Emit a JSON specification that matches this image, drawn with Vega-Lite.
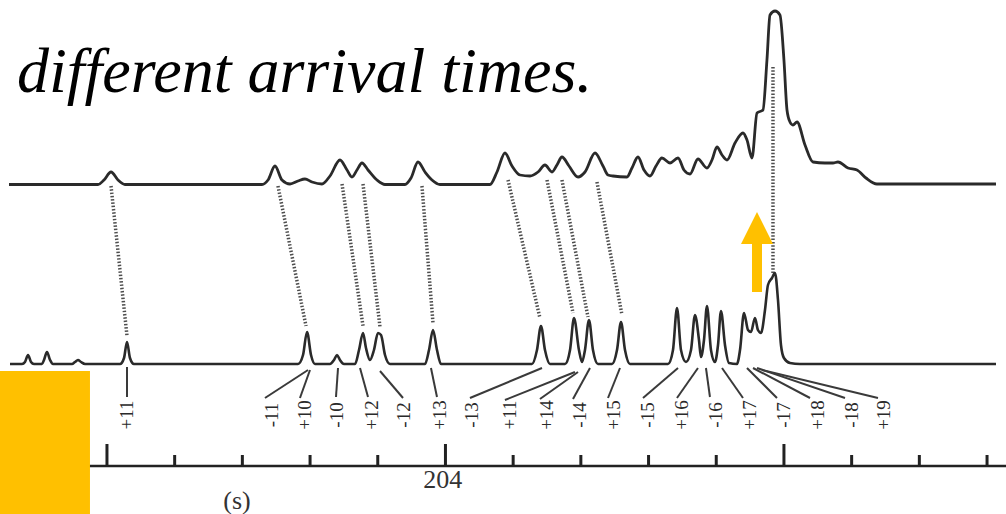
{
  "$schema": "https://vega.github.io/schema/vega-lite/v6.json",
  "width": 1006,
  "height": 514,
  "padding": 0,
  "autosize": {"type": "none"},
  "background": "white",
  "config": {"view": {"stroke": null}},
  "datasets": {
    "top": [
      {"t":197.553,"h":329.5},{"t":198.868,"h":329.5},{"t":198.956,"h":334},{"t":199.060,"h":342},{"t":199.163,"h":334},{"t":199.266,"h":329.5},
      {"t":201.290,"h":329.5},{"t":201.379,"h":334},{"t":201.482,"h":348},{"t":201.585,"h":334},{"t":201.704,"h":330},{"t":201.822,"h":333},{"t":201.925,"h":335},{"t":202.029,"h":332},{"t":202.176,"h":330},{"t":202.294,"h":338},{"t":202.442,"h":354},{"t":202.546,"h":344},{"t":202.619,"h":337},{"t":202.693,"h":344},{"t":202.767,"h":351},{"t":202.856,"h":344},{"t":202.989,"h":334},{"t":203.107,"h":329.5},
      {"t":203.402,"h":329.5},{"t":203.491,"h":336},{"t":203.594,"h":352},{"t":203.698,"h":342},{"t":203.801,"h":334},{"t":203.919,"h":329.5},
      {"t":204.658,"h":329.5},{"t":204.761,"h":342},{"t":204.879,"h":361},{"t":204.983,"h":348},{"t":205.101,"h":339},{"t":205.249,"h":338},{"t":205.367,"h":342},{"t":205.470,"h":349},{"t":205.574,"h":342},{"t":205.647,"h":349},{"t":205.721,"h":357},{"t":205.825,"h":348},{"t":205.958,"h":337},{"t":206.061,"h":342},{"t":206.209,"h":361},{"t":206.327,"h":348},{"t":206.401,"h":339},{"t":206.475,"h":338},{"t":206.681,"h":337},{"t":206.755,"h":346},{"t":206.844,"h":357},{"t":206.933,"h":344},{"t":207.021,"h":338},{"t":207.110,"h":348},{"t":207.198,"h":356},{"t":207.317,"h":351},{"t":207.435,"h":356},{"t":207.523,"h":344},{"t":207.612,"h":340},{"t":207.730,"h":355},{"t":207.863,"h":346},{"t":207.937,"h":354},{"t":208.011,"h":367},{"t":208.085,"h":359},{"t":208.159,"h":354},{"t":208.277,"h":371},{"t":208.395,"h":381},{"t":208.454,"h":374},{"t":208.528,"h":356},{"t":208.602,"h":401},{"t":208.690,"h":404},{"t":208.749,"h":454},{"t":208.794,"h":499},{"t":208.868,"h":503},{"t":208.941,"h":499},{"t":209.000,"h":454},{"t":209.045,"h":404},{"t":209.089,"h":392},{"t":209.133,"h":389},{"t":209.193,"h":392},{"t":209.311,"h":369},{"t":209.429,"h":352},{"t":209.606,"h":351},{"t":209.724,"h":351},{"t":209.798,"h":352},{"t":209.946,"h":346},{"t":210.079,"h":344},{"t":210.212,"h":336},{"t":210.374,"h":330},{"t":212.132,"h":330}
    ],
    "bottom": [
      {"t":197.568,"h":150},{"t":197.745,"h":150},{"t":197.789,"h":152},{"t":197.834,"h":159},{"t":197.878,"h":152},{"t":197.922,"h":150},
      {"t":198.040,"h":150},{"t":198.070,"h":154},{"t":198.114,"h":162},{"t":198.159,"h":154},{"t":198.203,"h":150},
      {"t":198.484,"h":150},{"t":198.528,"h":152},{"t":198.572,"h":154},{"t":198.616,"h":152},{"t":198.676,"h":150},
      {"t":199.193,"h":150},{"t":199.252,"h":156},{"t":199.296,"h":172},{"t":199.340,"h":156},{"t":199.399,"h":150},
      {"t":201.822,"h":150},{"t":201.896,"h":159},{"t":201.955,"h":182},{"t":202.014,"h":159},{"t":202.073,"h":150},
      {"t":202.294,"h":150},{"t":202.354,"h":154},{"t":202.398,"h":159},{"t":202.442,"h":154},{"t":202.501,"h":150},
      {"t":202.664,"h":150},{"t":202.723,"h":164},{"t":202.782,"h":181},{"t":202.826,"h":166},{"t":202.885,"h":154},{"t":202.944,"h":164},{"t":203.003,"h":181},{"t":203.048,"h":179},{"t":203.107,"h":159},{"t":203.181,"h":150},
      {"t":203.698,"h":150},{"t":203.757,"h":164},{"t":203.816,"h":184},{"t":203.875,"h":164},{"t":203.934,"h":150},
      {"t":205.278,"h":150},{"t":205.352,"h":164},{"t":205.411,"h":188},{"t":205.470,"h":164},{"t":205.544,"h":150},
      {"t":205.766,"h":150},{"t":205.840,"h":164},{"t":205.899,"h":196},{"t":205.972,"h":164},{"t":206.017,"h":152},{"t":206.061,"h":164},{"t":206.120,"h":194},{"t":206.179,"h":164},{"t":206.253,"h":150},
      {"t":206.460,"h":150},{"t":206.534,"h":164},{"t":206.593,"h":192},{"t":206.652,"h":164},{"t":206.726,"h":150},
      {"t":207.287,"h":150},{"t":207.361,"h":164},{"t":207.420,"h":206},{"t":207.479,"h":164},{"t":207.553,"h":152},{"t":207.627,"h":164},{"t":207.686,"h":199},{"t":207.745,"h":174},{"t":207.774,"h":157},{"t":207.819,"h":174},{"t":207.863,"h":208},{"t":207.922,"h":164},{"t":207.981,"h":152},{"t":208.026,"h":169},{"t":208.070,"h":203},{"t":208.129,"h":169},{"t":208.188,"h":151},
      {"t":208.306,"h":150},{"t":208.351,"h":164},{"t":208.410,"h":201},{"t":208.469,"h":184},{"t":208.513,"h":182},{"t":208.572,"h":196},{"t":208.616,"h":184},{"t":208.661,"h":181},{"t":208.720,"h":204},{"t":208.764,"h":229},{"t":208.823,"h":236},{"t":208.868,"h":241},{"t":208.912,"h":214},{"t":208.956,"h":169},{"t":209.000,"h":156},{"t":209.089,"h":151},{"t":209.237,"h":150},{"t":212.132,"h":150}
    ],
    "dots": [
      {"t":199.060,"h":328,"t2":199.296,"h2":178},
      {"t":201.526,"h":328,"t2":201.940,"h2":188},
      {"t":202.472,"h":330,"t2":202.782,"h2":188},
      {"t":202.782,"h":330,"t2":203.033,"h2":187},
      {"t":203.653,"h":328,"t2":203.816,"h2":191},
      {"t":204.924,"h":334,"t2":205.396,"h2":196},
      {"t":205.500,"h":334,"t2":205.884,"h2":201},
      {"t":205.721,"h":334,"t2":206.105,"h2":197},
      {"t":206.238,"h":332,"t2":206.608,"h2":199},
      {"t":208.838,"h":447,"t2":208.838,"h2":241}
    ],
    "leaders": [
      {"t":199.296,"h":147,"t2":199.296,"h2":117},
      {"t":201.970,"h":144,"t2":201.334,"h2":116},
      {"t":201.999,"h":144,"t2":201.851,"h2":116},
      {"t":202.413,"h":146,"t2":202.383,"h2":117},
      {"t":202.738,"h":146,"t2":202.856,"h2":117},
      {"t":203.033,"h":143,"t2":203.373,"h2":116},
      {"t":203.786,"h":146,"t2":203.875,"h2":117},
      {"t":205.426,"h":146,"t2":204.362,"h2":116},
      {"t":205.913,"h":142,"t2":204.879,"h2":114},
      {"t":205.958,"h":142,"t2":205.396,"h2":115},
      {"t":206.135,"h":146,"t2":205.884,"h2":115},
      {"t":206.578,"h":146,"t2":206.401,"h2":116},
      {"t":207.435,"h":146,"t2":206.918,"h2":116},
      {"t":207.730,"h":146,"t2":207.420,"h2":116},
      {"t":207.848,"h":146,"t2":207.907,"h2":117},
      {"t":208.085,"h":146,"t2":208.395,"h2":116},
      {"t":208.454,"h":146,"t2":208.897,"h2":116},
      {"t":208.543,"h":146,"t2":209.385,"h2":116},
      {"t":208.602,"h":146,"t2":209.902,"h2":116},
      {"t":208.676,"h":144,"t2":210.389,"h2":116}
    ],
    "labels": [
      {"t":199.296,"h":99,"label":"+11"},
      {"t":201.438,"h":99,"label":"-11"},
      {"t":201.925,"h":99,"label":"+10"},
      {"t":202.398,"h":99,"label":"-10"},
      {"t":202.915,"h":99,"label":"+12"},
      {"t":203.387,"h":99,"label":"-12"},
      {"t":203.919,"h":99,"label":"+13"},
      {"t":204.392,"h":99,"label":"-13"},
      {"t":204.953,"h":99,"label":"+11"},
      {"t":205.500,"h":99,"label":"+14"},
      {"t":205.987,"h":99,"label":"-14"},
      {"t":206.489,"h":99,"label":"+15"},
      {"t":206.992,"h":99,"label":"-15"},
      {"t":207.494,"h":99,"label":"+16"},
      {"t":207.996,"h":99,"label":"-16"},
      {"t":208.498,"h":99,"label":"+17"},
      {"t":209.000,"h":99,"label":"-17"},
      {"t":209.503,"h":99,"label":"+18"},
      {"t":210.005,"h":99,"label":"-18"},
      {"t":210.478,"h":99,"label":"+19"}
    ],
    "ticks": [
      {"t":198,"h":48,"h2":59},{"t":199,"h":48,"h2":70},{"t":200,"h":48,"h2":59},{"t":201,"h":48,"h2":59},{"t":202,"h":48,"h2":59},{"t":203,"h":48,"h2":59},
      {"t":204,"h":48,"h2":70},{"t":205,"h":48,"h2":59},{"t":206,"h":48,"h2":59},{"t":207,"h":48,"h2":59},{"t":208,"h":48,"h2":59},
      {"t":209,"h":48,"h2":70},{"t":210,"h":48,"h2":59},{"t":211,"h":48,"h2":59},{"t":212,"h":48,"h2":59}
    ],
    "axisline": [{"t":197.42,"h":48,"t2":212.28,"h2":48}],
    "axistext": [
      {"t":203.96,"h":34,"label":"204"},
      {"t":200.921,"h":13,"label":"(s)"}
    ],
    "title": [{"t":197.671,"h":422,"label":"different arrival times."}],
    "box": [{"t":197.42,"t2":198.749,"h":0,"h2":143}],
    "shaft": [{"t":208.602,"h":222,"h2":271}],
    "head": [{"t":208.602,"h":286}]
  },
  "encoding": {
    "x": {"field": "t", "type": "quantitative", "scale": {"domain": [197.42, 212.28], "nice": false, "zero": false}, "axis": null},
    "y": {"field": "h", "type": "quantitative", "scale": {"domain": [0, 514], "nice": false, "zero": false}, "axis": null}
  },
  "layer": [
    {"data": {"name": "dots"}, "mark": {"type": "rule", "stroke": "#3a3a3a", "strokeWidth": 3.5, "strokeDash": [1.5, 1.8], "opacity": 0.9},
     "encoding": {"x2": {"field": "t2"}, "y2": {"field": "h2"}}},
    {"data": {"name": "top"}, "mark": {"type": "line", "stroke": "#2a2a2a", "strokeWidth": 2.8, "interpolate": "monotone"}},
    {"data": {"name": "bottom"}, "mark": {"type": "line", "stroke": "#2a2a2a", "strokeWidth": 2.6, "interpolate": "monotone"}},
    {"data": {"name": "leaders"}, "mark": {"type": "rule", "stroke": "#3a3a3a", "strokeWidth": 2},
     "encoding": {"x2": {"field": "t2"}, "y2": {"field": "h2"}}},
    {"data": {"name": "labels"}, "mark": {"type": "text", "angle": 270, "align": "center", "baseline": "middle", "font": "Times New Roman, Liberation Serif, serif", "fontSize": 19, "fill": "#2a2a2a"},
     "encoding": {"text": {"field": "label"}}},
    {"data": {"name": "axisline"}, "mark": {"type": "rule", "stroke": "#222", "strokeWidth": 2.5},
     "encoding": {"x2": {"field": "t2"}, "y2": {"field": "h2"}}},
    {"data": {"name": "ticks"}, "mark": {"type": "rule", "stroke": "#222", "strokeWidth": 3},
     "encoding": {"y2": {"field": "h2"}}},
    {"data": {"name": "axistext"}, "mark": {"type": "text", "align": "center", "baseline": "middle", "font": "Times New Roman, Liberation Serif, serif", "fontSize": 26, "fill": "#333"},
     "encoding": {"text": {"field": "label"}}},
    {"data": {"name": "title"}, "mark": {"type": "text", "align": "left", "baseline": "alphabetic", "font": "Times New Roman, Liberation Serif, serif", "fontStyle": "italic", "fontSize": 64, "fill": "black"},
     "encoding": {"text": {"field": "label"}}},
    {"data": {"name": "box"}, "mark": {"type": "rect", "fill": "#FFC000"},
     "encoding": {"x2": {"field": "t2"}, "y2": {"field": "h2"}}},
    {"data": {"name": "shaft"}, "mark": {"type": "rule", "stroke": "#FFC000", "strokeWidth": 10},
     "encoding": {"y2": {"field": "h2"}}},
    {"data": {"name": "head"}, "mark": {"type": "point", "shape": "M0,-1L1,1L-1,1Z", "size": 1024, "filled": true, "fill": "#FFC000", "opacity": 1, "strokeWidth": 0}}
  ]
}
